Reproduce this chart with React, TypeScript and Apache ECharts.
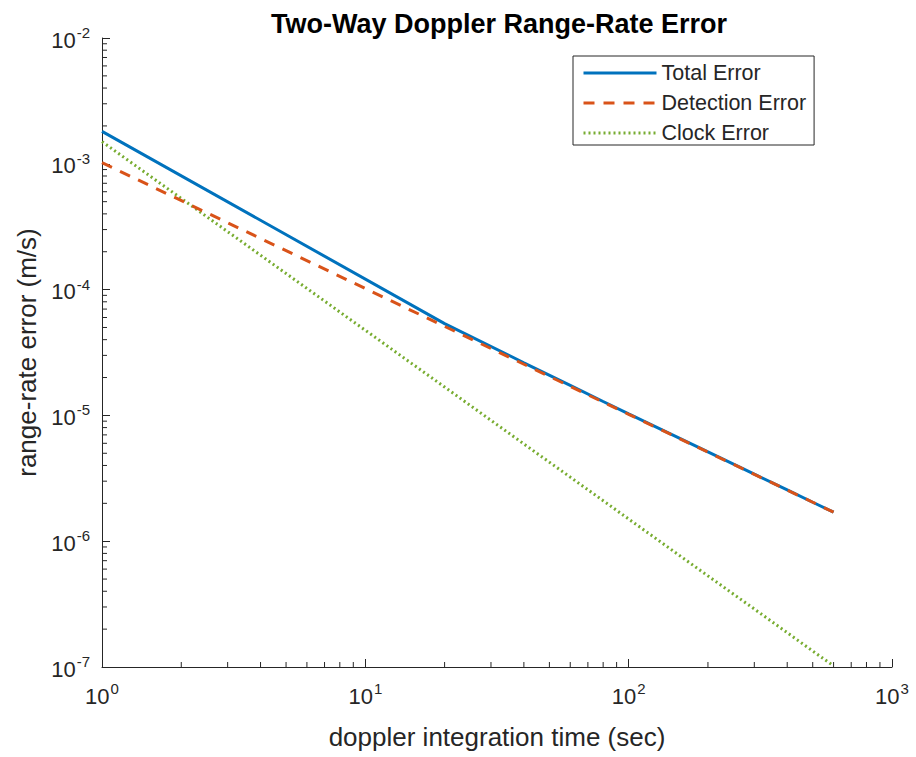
import React, { useEffect, useRef } from "react";
import * as echarts from "echarts";

const times = [1, 20, 40, 60, 80, 100, 200, 300, 400, 500, 600];
const totalError = [1.81e-3, 5.37e-5, 2.62e-5, 1.73e-5, 1.29e-5, 1.03e-5, 5.13e-6, 3.41e-6, 2.56e-6, 2.04e-6, 1.7e-6];
const detectionError = [1.02e-3, 5.1e-5, 2.55e-5, 1.7e-5, 1.275e-5, 1.02e-5, 5.1e-6, 3.4e-6, 2.55e-6, 2.04e-6, 1.7e-6];
const clockError = [1.5e-3, 1.68e-5, 5.93e-6, 3.23e-6, 2.1e-6, 1.5e-6, 5.3e-7, 2.89e-7, 1.875e-7, 1.34e-7, 1.02e-7];

const seriesNames = ["Total Error", "Detection Error", "Clock Error"];
const xMinorTicks = [2, 3, 4, 5, 6, 7, 8, 9, 20, 30, 40, 50, 60, 70, 80, 90, 200, 300, 400, 500, 600, 700, 800, 900];
const yDecades = [1e-7, 1e-6, 1e-5, 1e-4, 1e-3];
const yMinorTicks = yDecades.flatMap((d) => [2, 3, 4, 5, 6, 7, 8, 9].map((k) => k * d));

const AXIS_COLOR = "#262626";
const FONT = "Liberation Sans, Arial, Helvetica, sans-serif";

function pow10Label(v: number) {
  const e = Math.round(Math.log10(v));
  return `{b|10}{s|${e}}`;
}

const richLabel = {
  b: { fontSize: 22, fontFamily: FONT, color: AXIS_COLOR, lineHeight: 26, verticalAlign: "bottom" },
  s: { fontSize: 15, fontFamily: FONT, color: AXIS_COLOR, lineHeight: 15, verticalAlign: "top", padding: [0, 0, 0, 1] },
};

export default function App() {
  const ref = useRef<HTMLDivElement>(null);
  useEffect(() => {
    if (!ref.current) return;
    const chart = echarts.init(ref.current, undefined, { renderer: "svg" });
    const pts = (ys: number[]) => times.map((t, i) => [t, ys[i]]);
    chart.setOption({
      animation: false,
      backgroundColor: "#ffffff",
      title: {
        text: "Two-Way Doppler Range-Rate Error",
        left: 494,
        top: 5,
        textAlign: "center",
        textStyle: { fontSize: 27, fontWeight: "bold", color: "#000000", fontFamily: FONT },
      },
      legend: {
        orient: "vertical",
        left: 573,
        top: 56,
        data: seriesNames,
        itemWidth: 73,
        itemHeight: 20,
        itemGap: 8,
        padding: [6, 8, 1, 9],
        backgroundColor: "#ffffff",
        borderColor: AXIS_COLOR,
        borderWidth: 1,
        borderRadius: 0,
        itemStyle: { opacity: 0 },
        lineStyle: { width: 3, type: "inherit" },
        textStyle: { fontSize: 21.5, color: AXIS_COLOR, fontFamily: FONT, lineHeight: 20 },
      },
      grid: { left: 102, right: 24, top: 38, bottom: 90, containLabel: false },
      xAxis: {
        type: "log",
        logBase: 10,
        min: 1,
        max: 1000,
        name: "doppler integration time (sec)",
        nameLocation: "middle",
        nameGap: 57,
        nameTextStyle: { fontSize: 26, color: AXIS_COLOR, fontFamily: FONT },
        axisLine: { show: true, lineStyle: { color: AXIS_COLOR, width: 1 } },
        axisTick: { show: true, inside: true, length: 8, lineStyle: { color: AXIS_COLOR } },
        minorTick: { show: false },
        splitLine: { show: false },
        axisLabel: { margin: 14, fontSize: 22, formatter: pow10Label, rich: richLabel },
      },
      yAxis: {
        type: "log",
        logBase: 10,
        min: 1e-7,
        max: 1e-2,
        name: "range-rate error (m/s)",
        nameLocation: "middle",
        nameGap: 61,
        nameTextStyle: { fontSize: 26, color: AXIS_COLOR, fontFamily: FONT },
        axisLine: { show: true, lineStyle: { color: AXIS_COLOR, width: 1 } },
        axisTick: { show: true, inside: true, length: 8, lineStyle: { color: AXIS_COLOR } },
        minorTick: { show: false },
        splitLine: { show: false },
        axisLabel: { margin: 12, fontSize: 22, formatter: pow10Label, rich: richLabel },
      },
      series: [
        {
          name: "Total Error",
          type: "line",
          data: pts(totalError),
          symbol: "none",
          smooth: false,
          lineStyle: { color: "#0072BD", width: 3, type: "solid" },
          itemStyle: { color: "#0072BD" },
          z: 3,
        },
        {
          name: "Detection Error",
          type: "line",
          data: pts(detectionError),
          symbol: "none",
          lineStyle: { color: "#D95319", width: 3, type: [11, 9] },
          itemStyle: { color: "#D95319" },
          z: 4,
        },
        {
          name: "Clock Error",
          type: "line",
          data: pts(clockError),
          symbol: "none",
          lineStyle: { color: "#77AC30", width: 3, type: [2, 3] },
          itemStyle: { color: "#77AC30" },
          z: 2,
        },
        {
          name: "xminor",
          type: "custom",
          data: xMinorTicks.map((v) => [v, 1e-7]),
          silent: true,
          z: 1,
          renderItem: (params: any, api: any) => {
            const p = api.coord([api.value(0), api.value(1)]);
            return {
              type: "line",
              shape: { x1: p[0], y1: p[1], x2: p[0], y2: p[1] - 5 },
              style: { stroke: AXIS_COLOR, lineWidth: 1 },
            };
          },
        },
        {
          name: "yminor",
          type: "custom",
          data: yMinorTicks.map((v) => [1, v]),
          silent: true,
          z: 1,
          renderItem: (params: any, api: any) => {
            const p = api.coord([api.value(0), api.value(1)]);
            return {
              type: "line",
              shape: { x1: p[0], y1: p[1], x2: p[0] + 5, y2: p[1] },
              style: { stroke: AXIS_COLOR, lineWidth: 1 },
            };
          },
        },
      ],
    });
    return () => chart.dispose();
  }, []);
  return (
    <div
      ref={ref}
      style={{ position: "fixed", left: 0, top: 0, width: 916, height: 757, background: "#fff" }}
    />
  );
}
